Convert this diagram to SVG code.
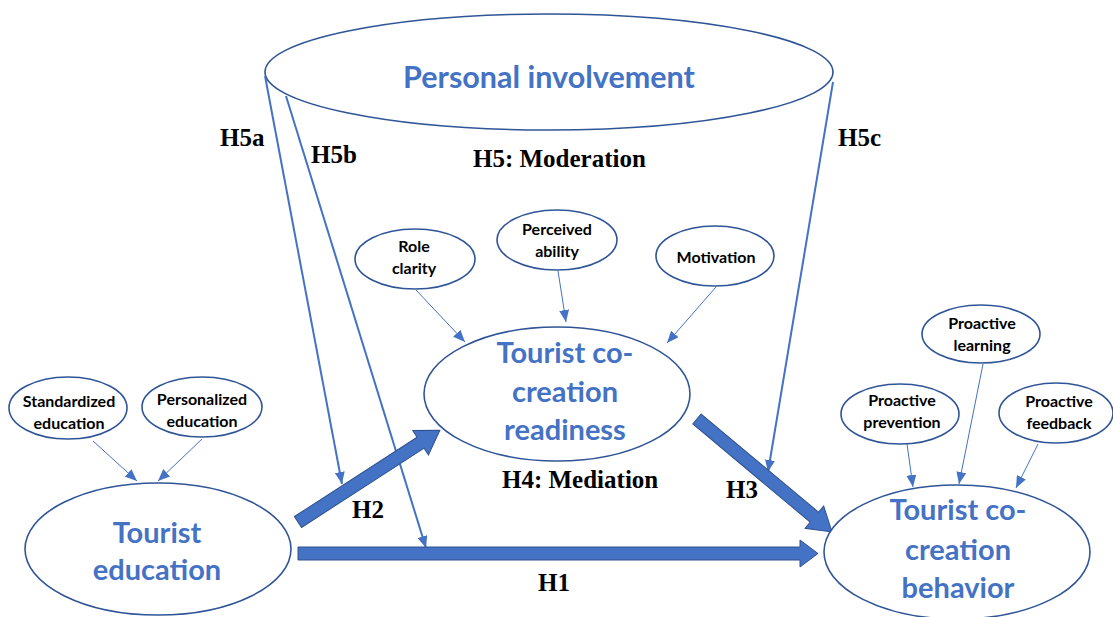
<svg xmlns="http://www.w3.org/2000/svg" width="1113" height="617" viewBox="0 0 1113 617">
<style>
.node{fill:#fff;stroke:#2F5597;stroke-width:1.6}
.small{font-family:Lato,"Open Sans",sans-serif;font-weight:700;font-size:16px;fill:#000;text-anchor:middle}
.big{font-family:Lato,"Open Sans",sans-serif;font-weight:700;font-size:29px;fill:#4472C4;text-anchor:middle}
.lab{font-family:"Liberation Serif","Times New Roman",serif;font-weight:700;font-size:25px;fill:#000}
.thin{stroke:#4472C4;stroke-width:1;fill:none}
.mod{stroke:#4472C4;stroke-width:2;fill:none}
.thick{fill:#4472C4;stroke:#2F528F;stroke-width:1}
</style>
<defs>
<marker id="ah" markerUnits="userSpaceOnUse" markerWidth="12" markerHeight="10" refX="12" refY="5" orient="auto">
<path d="M0,0 L12,5 L0,10 z" fill="#4472C4"/>
</marker>
</defs>
<rect width="1113" height="617" fill="#fff"/>

<g id="personal-involvement">
<ellipse class="node" cx="549" cy="72" rx="284" ry="58"/>
<text class="big" x="549" y="88" style="font-size:30.5px">Personal involvement</text>
</g>

<g id="connectors">
<line class="mod" x1="265" y1="76" x2="342" y2="484" marker-end="url(#ah)"/>
<line class="mod" x1="286" y1="96" x2="426" y2="548" marker-end="url(#ah)"/>
<line class="mod" x1="833" y1="82" x2="768" y2="472" marker-end="url(#ah)"/>
<line class="thin" x1="93" y1="441" x2="137" y2="481" marker-end="url(#ah)"/>
<line class="thin" x1="202" y1="439" x2="158" y2="481" marker-end="url(#ah)"/>
<line class="thin" x1="416" y1="290" x2="465" y2="342" marker-end="url(#ah)"/>
<line class="thin" x1="558" y1="271" x2="566" y2="322" marker-end="url(#ah)"/>
<line class="thin" x1="716" y1="287" x2="667" y2="343" marker-end="url(#ah)"/>
<line class="thin" x1="907" y1="444" x2="913" y2="487" marker-end="url(#ah)"/>
<line class="thin" x1="983" y1="364" x2="959" y2="484" marker-end="url(#ah)"/>
<line class="thin" x1="1038" y1="444" x2="1016" y2="488" marker-end="url(#ah)"/>
<path class="thick" transform="translate(298,522) rotate(-32.9)" d="M0,-6.5 L146,-6.5 L146,-14.5 L169,0 L146,14.5 L146,6.5 L0,6.5 z"/>
<path class="thick" transform="translate(697,419) rotate(39.9)" d="M0,-6.5 L153,-6.5 L153,-14.5 L176,0 L153,14.5 L153,6.5 L0,6.5 z"/>
<path class="thick" transform="translate(298,553.5)" d="M0,-6.5 L502,-6.5 L502,-13.5 L520,0 L502,13.5 L502,6.5 L0,6.5 z"/>
</g>

<g id="standardized-education">
<ellipse class="node" cx="68" cy="408" rx="59" ry="31"/>
<text class="small" x="69" y="407">Standardized</text>
<text class="small" x="69" y="429">education</text>
</g>
<g id="personalized-education">
<ellipse class="node" cx="202" cy="407" rx="60" ry="30"/>
<text class="small" x="202" y="405">Personalized</text>
<text class="small" x="202" y="427">education</text>
</g>
<g id="tourist-education">
<ellipse class="node" cx="158" cy="549" rx="133" ry="66"/>
<text class="big" x="157" y="543">Tourist</text>
<text class="big" x="157" y="580">education</text>
</g>

<g id="role-clarity">
<ellipse class="node" cx="415" cy="259" rx="60" ry="30"/>
<text class="small" x="414" y="252">Role</text>
<text class="small" x="414" y="274">clarity</text>
</g>
<g id="perceived-ability">
<ellipse class="node" cx="557" cy="240" rx="60" ry="30"/>
<text class="small" x="557" y="235">Perceived</text>
<text class="small" x="557" y="257">ability</text>
</g>
<g id="motivation">
<ellipse class="node" cx="715" cy="256" rx="59" ry="30"/>
<text class="small" x="716" y="263">Motivation</text>
</g>
<g id="co-creation-readiness">
<ellipse class="node" cx="557" cy="394" rx="133" ry="67"/>
<text class="big" x="565" y="363">Tourist co-</text>
<text class="big" x="565" y="402">creation</text>
<text class="big" x="565" y="440">readiness</text>
</g>

<g id="proactive-learning">
<ellipse class="node" cx="981" cy="334" rx="59" ry="29"/>
<text class="small" x="982" y="329">Proactive</text>
<text class="small" x="982" y="351">learning</text>
</g>
<g id="proactive-prevention">
<ellipse class="node" cx="900" cy="414" rx="59" ry="30"/>
<text class="small" x="902" y="406">Proactive</text>
<text class="small" x="902" y="428">prevention</text>
</g>
<g id="proactive-feedback">
<ellipse class="node" cx="1056" cy="413" rx="57" ry="30"/>
<text class="small" x="1059" y="407">Proactive</text>
<text class="small" x="1059" y="429">feedback</text>
</g>
<g id="co-creation-behavior">
<ellipse class="node" cx="957" cy="552" rx="133" ry="67"/>
<text class="big" x="958" y="520">Tourist co-</text>
<text class="big" x="958" y="560">creation</text>
<text class="big" x="958" y="598">behavior</text>
</g>

<g id="labels">
<text class="lab" x="220" y="146">H5a</text>
<text class="lab" x="311" y="163">H5b</text>
<text class="lab" x="473" y="167">H5: Moderation</text>
<text class="lab" x="838" y="146">H5c</text>
<text class="lab" x="502" y="488">H4: Mediation</text>
<text class="lab" x="352" y="518">H2</text>
<text class="lab" x="726" y="498">H3</text>
<text class="lab" x="538" y="591">H1</text>
</g>
</svg>
